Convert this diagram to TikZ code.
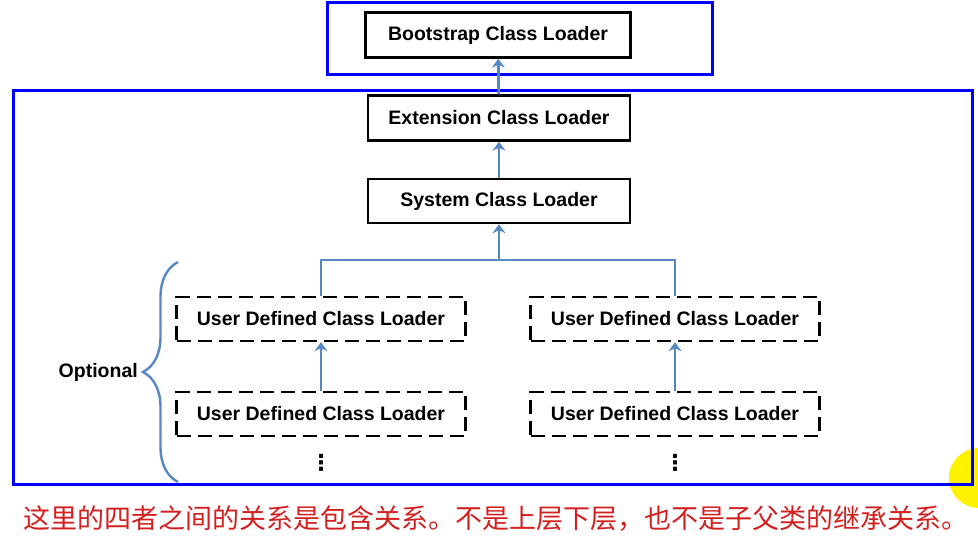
\documentclass[tikz,border=0pt]{standalone}
\usepackage{fontspec}
\setmainfont{Liberation Sans}
\newfontfamily\cjk{Noto Sans CJK SC}
\newfontfamily\symb{DejaVu Sans}
\usetikzlibrary{positioning,arrows.meta,decorations.pathreplacing}
\definecolor{linkblue}{RGB}{88,136,196}
\definecolor{notered}{RGB}{210,32,32}
\tikzset{
    loader/.style={draw,line width=2.4pt,minimum width=262pt,minimum height=44pt,
        inner sep=0pt,font=\fontsize{19.5}{22}\selectfont\bfseries},
    userloader/.style={loader,dash pattern=on 14pt off 7pt,minimum width=289pt},
    frame/.style={draw=blue,line width=3pt},
    link/.style={->,draw=linkblue,line width=2.8pt}
}
\begin{document}
\begin{tikzpicture}[>={Stealth[length=9pt,width=13pt,inset=3pt]},x=1pt,y=-1pt]
    \useasboundingbox (0,0) rectangle (978,539);
    \fill[yellow] (979,478) circle (30);%cursor mark
    \draw[frame] (327,2) rectangle (712,74);
    \draw[frame] (13,90) rectangle (972,484);
    \node[loader,minimum width=265pt,minimum height=45pt] (boot) at (498,35) {Bootstrap Class Loader};
    \node[loader,minimum height=45pt] (ext) at (499,118) {Extension Class Loader};
    \node[loader] (sys) at (499,201) {System Class Loader};
    \draw[link] (ext) -- (boot);
    \draw[link] (sys) -- (ext);
    \coordinate (fork) at (499,260);
    \foreach \x/\n in {321/a,675/b}{
        \node[userloader] (up\n) at (\x,319) {User Defined Class Loader};
        \node[userloader] (low\n) at (\x,414) {User Defined Class Loader};
        \node[font=\symb\fontsize{22}{22}\selectfont\bfseries,inner sep=0pt] (dots\n) at (\x,463) {⋮};
        \draw[link] (low\n) -- (up\n);
    }
    \draw[linkblue,line width=2.8pt] (upa.north) |- (fork) -| (upb.north);
    \draw[link] (fork) -- (sys);
    % optional part
    \coordinate (bbot) at (178,482);
    \coordinate (btop) at (178,262);
    \coordinate (tip) at (143,372);
    \draw[linkblue,line width=2.4pt,decorate,decoration={brace,amplitude=35pt}] (bbot) -- (btop);
    \node[left=5pt of tip,font=\fontsize{19.5}{22}\selectfont\bfseries,inner sep=0pt] (opt) {Optional};
    \node[text=notered,font=\cjk\fontsize{27}{30}\selectfont] (note) at (496,519)
        {这里的四者之间的关系是包含关系。不是上层下层，也不是子父类的继承关系。};
\end{tikzpicture}
\end{document}
